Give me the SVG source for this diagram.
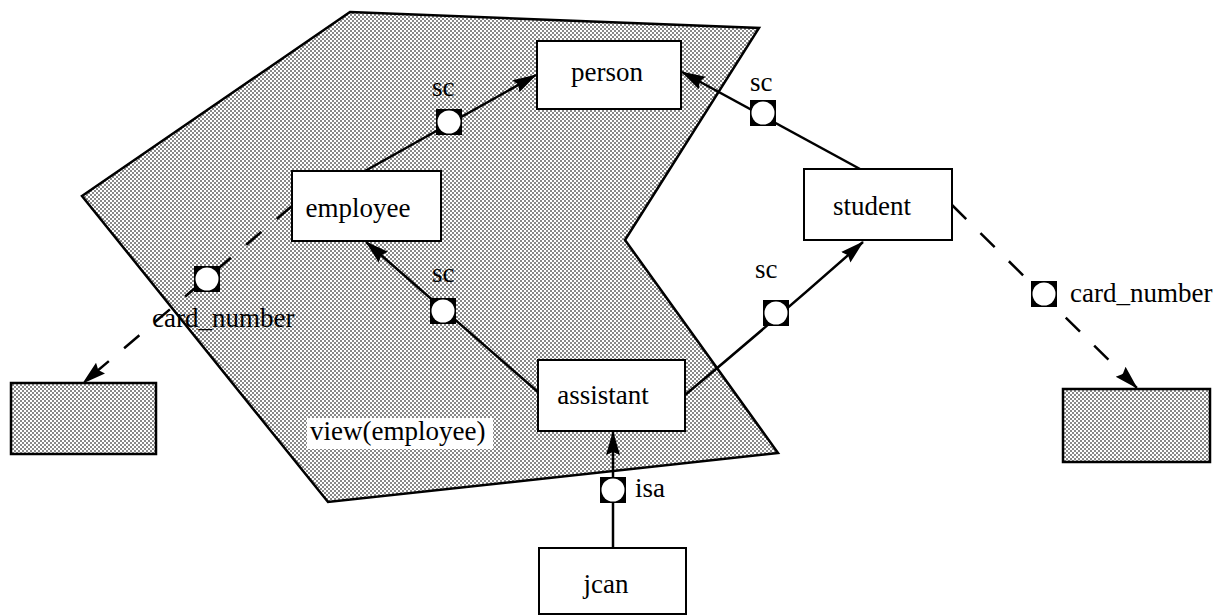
<svg xmlns="http://www.w3.org/2000/svg" width="1216" height="616" viewBox="0 0 1216 616">
<defs>
<pattern id="dots" width="4" height="4" patternUnits="userSpaceOnUse">
<rect width="4" height="4" fill="#fff"/>
<rect x="0" y="0" width="2" height="2" fill="#888"/>
<rect x="2" y="2" width="2" height="2" fill="#888"/>
</pattern>
<marker id="arr" viewBox="0 0 24 16" refX="23" refY="8" markerWidth="24" markerHeight="16" markerUnits="userSpaceOnUse" orient="auto">
<path d="M0,1 L24,8 L0,15 L3,8 Z" fill="#000"/>
</marker>
<g id="knot">
<rect x="-13" y="-13" width="26" height="26" fill="#000"/>
<circle r="11.5" fill="#fff"/>
</g>
</defs>
<style>
.box{fill:#fff;stroke:#000;stroke-width:2}
.sbox{fill:url(#dots);stroke:#000;stroke-width:2.5}
.t{font-family:"Liberation Serif","Times New Roman",serif;font-size:27px;fill:#000}
.c{text-anchor:middle}
.ln{fill:none;stroke:#000;stroke-width:2.5}
.dash{stroke-dasharray:20 20}
</style>
<rect width="1216" height="616" fill="#fff"/>
<g id="view">
<polygon points="350,12 759,28 625,240 778,453 328,502 82,196" fill="url(#dots)" stroke="#000" stroke-width="2.5" stroke-linejoin="miter"/>
<rect x="307" y="418" width="186" height="31" fill="#fff"/>
<text class="t" x="310" y="440">view(employee)</text>
</g>
<g id="connectors">
<line class="ln" x1="365" y1="171" x2="536" y2="75" marker-end="url(#arr)"/>
<line class="ln" x1="860" y1="169" x2="682" y2="72" marker-end="url(#arr)"/>
<line class="ln" x1="538" y1="392" x2="366" y2="242" marker-end="url(#arr)"/>
<path class="ln" d="M685,395 Q775,320 863,242" marker-end="url(#arr)"/>
<line class="ln" x1="613" y1="548" x2="613" y2="432" marker-end="url(#arr)"/>
<line class="ln dash" x1="292" y1="206" x2="83" y2="383" marker-end="url(#arr)"/>
<line class="ln dash" x1="952" y1="205" x2="1137" y2="388" marker-end="url(#arr)"/>
<use href="#knot" x="449" y="122"/>
<use href="#knot" x="763" y="113"/>
<use href="#knot" x="443" y="311"/>
<use href="#knot" x="776" y="313"/>
<use href="#knot" x="613" y="490"/>
<use href="#knot" x="207" y="279"/>
<use href="#knot" x="1044" y="294"/>
<text class="t" x="432" y="96">sc</text>
<text class="t" x="750" y="91">sc</text>
<text class="t" x="432" y="282">sc</text>
<text class="t" x="755" y="278">sc</text>
<text class="t" x="635" y="497">isa</text>
<text class="t" x="152" y="327">card_number</text>
<text class="t" x="1070" y="302">card_number</text>
</g>
<g id="person"><rect class="box" x="537" y="41" width="144" height="68"/><text class="t c" x="607" y="81">person</text></g>
<g id="employee"><rect class="box" x="292" y="171" width="149" height="70"/><text class="t c" x="358" y="217">employee</text></g>
<g id="student"><rect class="box" x="804" y="169" width="148" height="71"/><text class="t c" x="872" y="215">student</text></g>
<g id="assistant"><rect class="box" x="538" y="360" width="147" height="71"/><text class="t c" x="603" y="404">assistant</text></g>
<g id="jcan"><rect class="box" x="539" y="548" width="147" height="66"/><text class="t c" x="606" y="593">jcan</text></g>
<g id="value-left"><rect class="sbox" x="11" y="383" width="145" height="71"/></g>
<g id="value-right"><rect class="sbox" x="1063" y="389" width="147" height="73"/></g>
</svg>
